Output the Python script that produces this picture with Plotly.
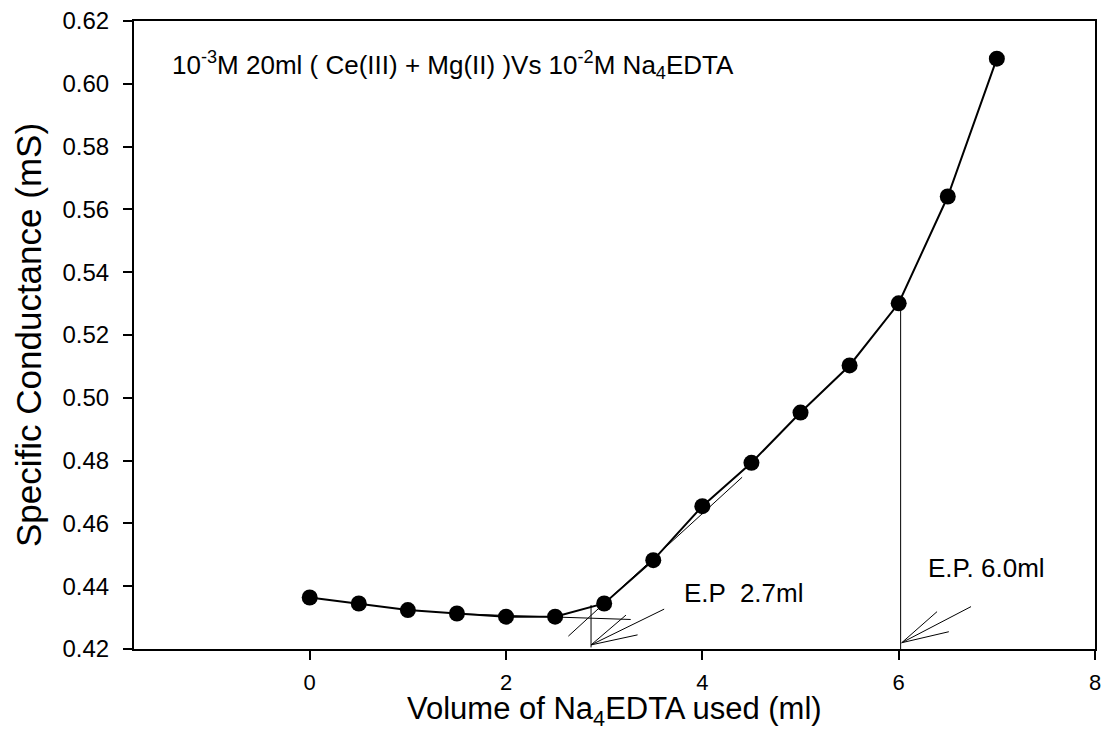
import plotly.graph_objects as go

volume_ml = [0.0, 0.5, 1.0, 1.5, 2.0, 2.5, 3.0, 3.5, 4.0, 4.5, 5.0, 5.5, 6.0, 6.5, 7.0]
conductance_mS = [0.4364, 0.4345, 0.4324, 0.4313, 0.4303, 0.4303, 0.4345,
                  0.4483, 0.4655, 0.4793, 0.4953, 0.5103, 0.5301, 0.5641, 0.6080]

x_ticks = [0, 2, 4, 6, 8]
y_ticks = [0.42, 0.44, 0.46, 0.48, 0.50, 0.52, 0.54, 0.56, 0.58, 0.60, 0.62]

# tangent / construction lines (data coordinates)
flat_tangent = [(1.5, 0.4312), (3.27, 0.4294)]
rise_tangent = [(2.635, 0.4241), (4.405, 0.4747)]
ep1_vertical = [(2.866, 0.4340), (2.866, 0.4205)]
ep2_vertical = [(6.02, 0.5301), (6.02, 0.42)]
arrow1 = {"tip": (2.866, 0.4213), "tail": (3.611, 0.4327), "b1": (3.222, 0.4308), "b2": (3.340, 0.4245)}
arrow2 = {"tip": (6.031, 0.4220), "tail": (6.737, 0.4335), "b1": (6.391, 0.4319), "b2": (6.511, 0.4255)}

FONT = "Arial, Liberation Sans, sans-serif"

fig = go.Figure()
fig.add_trace(go.Scatter(
    x=volume_ml, y=conductance_mS, mode="lines+markers",
    line=dict(color="black", width=2),
    marker=dict(color="black", size=16),
    showlegend=False,
))

def seg(p, q, w=1):
    fig.add_shape(type="line", xref="x", yref="y", x0=p[0], y0=p[1], x1=q[0], y1=q[1],
                  line=dict(color="black", width=w))

seg(*flat_tangent)
seg(*rise_tangent)
seg(*ep1_vertical)
seg(*ep2_vertical)
for a in (arrow1, arrow2):
    seg(a["tip"], a["tail"])
    seg(a["tip"], a["b1"])
    seg(a["tip"], a["b2"])

fig.add_annotation(x=-1.42, y=0.6061, xref="x", yref="y", xanchor="left", yanchor="middle",
                   text="10<sup>-3</sup>M 20ml ( Ce(III) + Mg(II) )Vs 10<sup>-2</sup>M Na<sub>4</sub>EDTA",
                   showarrow=False, font=dict(family=FONT, size=26, color="black"))
fig.add_annotation(x=4.415, y=0.4378, xref="x", yref="y", text="E.P  2.7ml",
                   showarrow=False, font=dict(family=FONT, size=26, color="black"))
fig.add_annotation(x=6.897, y=0.4458, xref="x", yref="y", text="E.P. 6.0ml",
                   showarrow=False, font=dict(family=FONT, size=26, color="black"))
# x-axis title
fig.add_annotation(x=0.5, y=-0.098, xref="paper", yref="paper", xanchor="center", yanchor="middle",
                   text="Volume of Na<sub>4</sub>EDTA used (ml)", showarrow=False,
                   font=dict(family=FONT, size=31, color="black"))

fig.update_layout(
    width=1106, height=732,
    margin=dict(l=134, r=11, t=21, b=83),
    paper_bgcolor="white", plot_bgcolor="white",
    font=dict(family=FONT, color="black"),
)
fig.update_xaxes(
    range=[-1.79, 8.0], tickvals=x_ticks, ticktext=[str(v) for v in x_ticks],
    showgrid=False, zeroline=False, showline=True, linecolor="black", linewidth=2,
    mirror=True, ticks="outside", ticklen=9, tickwidth=1.5, tickcolor="black",
    tickfont=dict(family=FONT, size=22), ticklabelstandoff=4, automargin=False,
)
fig.update_yaxes(
    range=[0.42, 0.62], tickvals=y_ticks, ticktext=[f"{v:.2f}" for v in y_ticks],
    showgrid=False, zeroline=False, showline=True, linecolor="black", linewidth=2,
    mirror=True, ticks="outside", ticklen=9, tickwidth=1.5, tickcolor="black",
    tickfont=dict(family=FONT, size=24), ticklabelstandoff=9, automargin=False,
    title=dict(text="Specific Conductance (mS)", font=dict(family=FONT, size=35), standoff=10),
)

fig.write_html("out.html")
